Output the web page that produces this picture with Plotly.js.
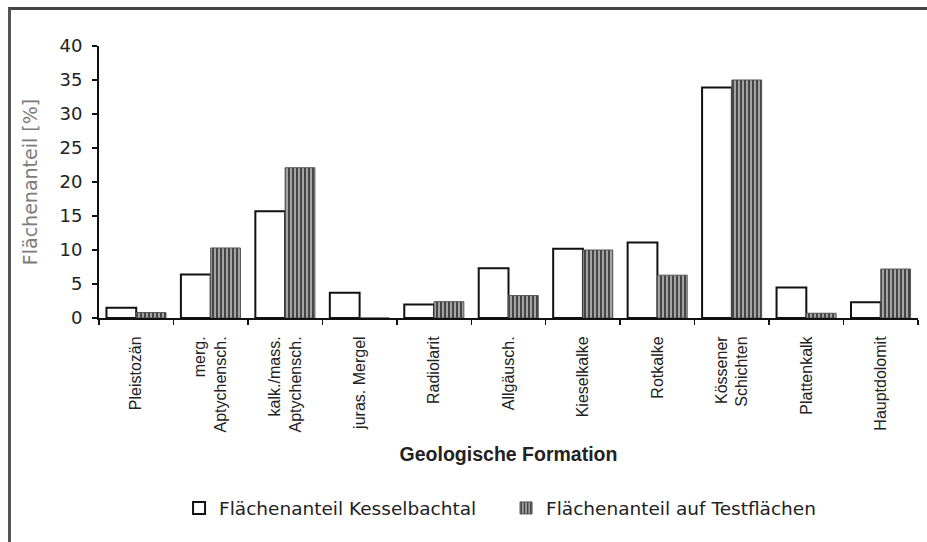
<!DOCTYPE html>
<html>
<head>
<meta charset="utf-8">
<script src="https://cdn.plot.ly/plotly-3.0.1.min.js"></script>
<style>
  html, body { margin: 0; padding: 0; background: #fff; }
  #wrap { position: relative; width: 927px; height: 542px; }
  #chart { width: 927px; height: 542px; }
  #frame { position: absolute; left: 8px; top: 7px; width: 919px; height: 535px;
           border-left: 3px solid #555; border-top: 3px solid #444; pointer-events: none; box-sizing: border-box; }
</style>
</head>
<body>
<div id="wrap">
  <div id="chart"></div>
  <div id="frame"></div>
</div>
<script>
const categories = [
  "Pleistozän",
  "merg.<br>Aptychensch.",
  "kalk./mass.<br>Aptychensch.",
  "juras. Mergel",
  "Radiolarit",
  "Allgäusch.",
  "Kieselkalke",
  "Rotkalke",
  "Kössener<br>Schichten",
  "Plattenkalk",
  "Hauptdolomit"
];
const kesselbachtal = [1.5, 6.4, 15.7, 3.7, 2.0, 7.3, 10.2, 11.1, 33.9, 4.5, 2.3];
const testflaechen  = [0.8, 10.3, 22.1, 0, 2.4, 3.3, 10.0, 6.3, 35.0, 0.7, 7.2];
const seriesNames = ["Flächenanteil Kesselbachtal", "Flächenanteil auf Testflächen"];
const yTicks = [0, 5, 10, 15, 20, 25, 30, 35, 40];

const traces = [
  {
    type: "bar", x: categories, y: kesselbachtal, name: seriesNames[0],
    marker: { color: "#ffffff", line: { color: "#111", width: 2 } },
    hoverinfo: "x+y"
  },
  {
    type: "bar", x: categories, y: testflaechen, name: seriesNames[1],
    marker: {
      color: "#9c9c9c",
      pattern: { shape: "|", fgcolor: "#3a3a3a", bgcolor: "#a4a4a4", size: 4, solidity: 0.45 },
      line: { color: "#555", width: 1 }
    },
    hoverinfo: "x+y"
  }
];

const layout = {
  width: 927, height: 542,
  paper_bgcolor: "#ffffff", plot_bgcolor: "#ffffff",
  margin: { l: 99, r: 9, t: 46, b: 224 },
  barmode: "group", bargap: 0.2, bargroupgap: 0,
  showlegend: true,
  legend: {
    orientation: "h", x: 0.497, xanchor: "center", y: -0.70, yanchor: "middle",
    entrywidth: 282,
    font: { family: "DejaVu Sans, sans-serif", size: 18.5, color: "#222" },
    itemclick: false, itemdoubleclick: false
  },
  xaxis: {
    type: "category",
    tickangle: -90,
    ticks: "outside", ticklen: 5, tickwidth: 1.5, tickcolor: "#111",
    tickson: "boundaries",
    ticklabelstandoff: 10,
    showline: true, linecolor: "#111", linewidth: 2,
    showgrid: false, zeroline: false,
    tickfont: { family: "Liberation Sans, Arial, sans-serif", size: 16, color: "#222" },
    title: { text: "Geologische Formation", standoff: 16, font: { family: "Liberation Sans, Arial, sans-serif", size: 19.5, color: "#222", weight: "bold" } }
  },
  yaxis: {
    range: [0, 40],
    tickvals: yTicks,
    ticks: "outside", ticklen: 5, tickwidth: 1.5, tickcolor: "#111",
    ticklabelstandoff: 6,
    showline: true, linecolor: "#111", linewidth: 2,
    showgrid: false, zeroline: false,
    tickfont: { family: "DejaVu Sans, sans-serif", size: 18, color: "#222" },
    title: { text: "Flächenanteil [%]", standoff: 17, font: { family: "DejaVu Sans, sans-serif", size: 19, color: "#7c7c7c" } }
  }
};

Plotly.newPlot("chart", traces, layout, { displayModeBar: false, staticPlot: true });
</script>
</body>
</html>
